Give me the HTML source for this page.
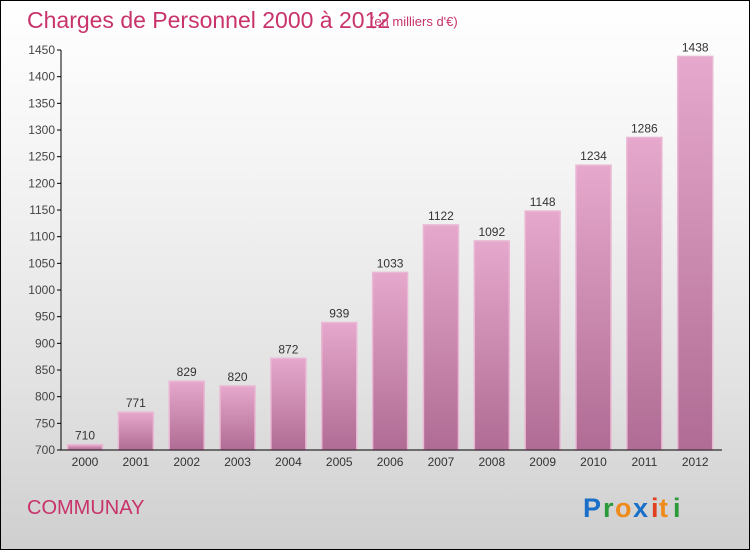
<!DOCTYPE html>
<html><head><meta charset="utf-8"><style>
body{margin:0}
#c{position:relative;width:748px;height:548px;border:1px solid #000;background:linear-gradient(#ffffff,#f4f4f4 30%,#e2e2e2 70%,#cfcfcf);font-family:"Liberation Sans",sans-serif;overflow:hidden}
</style></head><body>
<div id="c">
<svg width="748" height="548" id="svg">
<defs><linearGradient id="bg" x1="0" y1="0" x2="0" y2="1"><stop offset="0" stop-color="#e6a8cc"/><stop offset="1" stop-color="#b06c94"/></linearGradient></defs>
<text x="26" y="27" font-size="23" fill="#c8336b">Charges de Personnel 2000 à 2012</text>
<text x="369" y="25" font-size="13" fill="#c8336b">(en milliers d'€)</text>
<text x="26" y="513" font-size="20" fill="#c8336b">COMMUNAY</text>
<g font-size="27" font-weight="bold" font-family="Liberation Sans,sans-serif">
<text x="582" y="516" fill="#1a70c8">P</text><text x="602" y="516" fill="#2a9a3a">r</text><text x="614" y="516" fill="#f08a1a">o</text><text x="632" y="516" fill="#1a70c8">x</text><text x="650" y="516" fill="#e04020">i</text><text x="658" y="516" fill="#f08a1a">t</text><text x="672" y="516" fill="#2a9a3a">i</text>
</g>
</svg>
</div>
<script>
const years=["2000","2001","2002","2003","2004","2005","2006","2007","2008","2009","2010","2011","2012"];
const values=[710,771,829,820,872,939,1033,1122,1092,1148,1234,1286,1438];
const yTicks=[700,750,800,850,900,950,1000,1050,1100,1150,1200,1250,1300,1350,1400,1450];
const svg=document.getElementById('svg');const NS='http://www.w3.org/2000/svg';
const y=v=>449-(v-700)*(400/750);
const x=i=>84+i*50.85;
function mk(t,a,p){const e=document.createElementNS(NS,t);for(const k in a)e.setAttribute(k,a[k]);(p||svg).appendChild(e);return e;}
yTicks.forEach(v=>{
const l=mk('line',{x1:56,x2:60,y1:y(v),y2:y(v),stroke:'#000'});


const t=mk('text',{x:54,y:y(v)+4,'font-size':12,fill:'#444','text-anchor':'end'});t.textContent=v;


});
values.forEach((v,i)=>{
const r=mk('rect',{x:x(i)-17.5,y:y(v),width:35,height:y(700)-y(v),fill:'url(#bg)',stroke:'#eab8d4','stroke-width':1.5});


const t=mk('text',{x:x(i),y:y(v)-5,'font-size':12,fill:'#333','text-anchor':'middle'});t.textContent=v;


const yl=mk('text',{x:x(i),y:465,'font-size':12,fill:'#333','text-anchor':'middle'});yl.textContent=years[i];


});
const ax=mk('line',{x1:60,x2:60,y1:y(1450),y2:y(700),stroke:'#000'});


const bx=mk('line',{x1:60,x2:721,y1:y(700),y2:y(700),stroke:'#000'});


</script>
</body></html>
